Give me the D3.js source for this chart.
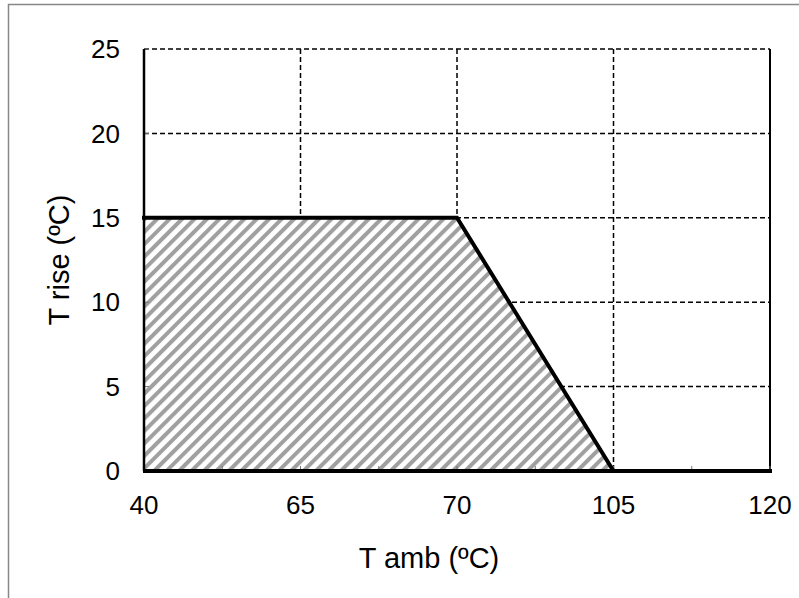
<!DOCTYPE html>
<html><head><meta charset="utf-8">
<script src="https://cdn.jsdelivr.net/npm/d3@7"></script>
<style>body{margin:0;background:#fff}svg{display:block}</style>
</head><body>
<script>
const categories = ["40", "65", "70", "105", "120"];
const tRise = [15, 15, 15, 0, 0];
const yTicks = [0, 5, 10, 15, 20, 25];
const xTitle = "T amb (ºC)";
const yTitle = "T rise (ºC)";

const W = 799, H = 598;
const m = {left:144, right:770, top:49, bottom:471};
const svg = d3.select("body").append("svg").attr("width", W).attr("height", H);
const font = "'Liberation Sans', Arial, sans-serif";

// outer frame (top & left only visible)
svg.append("path").attr("d", `M8.5,${H} V4.5 H${W}`).attr("fill","none").attr("stroke","#888").attr("stroke-width",1.5);

const x = d3.scalePoint().domain(categories).range([m.left, m.right]);
const y = d3.scaleLinear().domain([0, 25]).range([m.bottom, m.top]);

// hatch pattern
const defs = svg.append("defs");
const P = 8.8;
const pat = defs.append("pattern").attr("id","hatch").attr("patternUnits","userSpaceOnUse")
  .attr("width",P).attr("height",P).attr("patternTransform","rotate(45)");
pat.append("rect").attr("width",P).attr("height",P).attr("fill","#fff");
pat.append("rect").attr("x",0).attr("y",0).attr("width",4).attr("height",P).attr("fill","#a0a0a0");

// gridlines
const g = svg.append("g");
g.selectAll("line.h").data(yTicks.filter(d=>d>0)).join("line")
  .attr("x1", m.left).attr("x2", m.right).attr("y1", d=>y(d)).attr("y2", d=>y(d))
  .attr("stroke","#000").attr("stroke-width",1.5).attr("stroke-dasharray","5,3");
g.selectAll("line.v").data(categories.slice(1, -1)).join("line")
  .attr("x1", d=>x(d)).attr("x2", d=>x(d)).attr("y1", m.top).attr("y2", m.bottom)
  .attr("stroke","#000").attr("stroke-width",1.5).attr("stroke-dasharray","5,3");

// right border
svg.append("line").attr("x1", m.right).attr("x2", m.right).attr("y1", m.top).attr("y2", m.bottom)
  .attr("stroke","#000").attr("stroke-width",2);

// area
const pts = categories.map((c,i)=>({c, v:tRise[i]}));
const area = d3.area().x(d=>x(d.c)).y0(y(0)).y1(d=>y(d.v));
svg.append("path").datum(pts).attr("d", area).attr("fill","url(#hatch)");

// minor ticks on x (half intervals)
const step = x.step();
const xt = [];
for (let i = 0; i < categories.length - 1; i++) xt.push(x(categories[i]) + step/2);
categories.forEach(c=>xt.push(x(c)));
svg.selectAll("line.xt").data(xt).join("line")
  .attr("x1", d=>d).attr("x2", d=>d).attr("y1", m.bottom).attr("y2", m.bottom-5)
  .attr("stroke","#777").attr("stroke-width",1);
svg.selectAll("line.yt").data(yTicks).join("line")
  .attr("x1", m.left).attr("x2", m.left+5).attr("y1", d=>y(d)).attr("y2", d=>y(d))
  .attr("stroke","#777").attr("stroke-width",1);

// axis lines
svg.append("line").attr("x1", m.left).attr("x2", m.left).attr("y1", m.top).attr("y2", m.bottom)
  .attr("stroke","#000").attr("stroke-width",2.5);
svg.append("line").attr("x1", m.left - 1).attr("x2", m.right).attr("y1", y(0)).attr("y2", y(0))
  .attr("stroke","#000").attr("stroke-width",4);

// data line
const line = d3.line().x(d=>x(d.c)).y(d=>y(d.v));
svg.append("path").datum(pts).attr("d", line).attr("fill","none")
  .attr("stroke","#000").attr("stroke-width",4).attr("stroke-linejoin","miter").attr("stroke-linecap","square");

// tick labels
svg.selectAll("text.yl").data(yTicks).join("text")
  .attr("x", 120).attr("y", d=>y(d)).attr("dy","0.35em").attr("text-anchor","end")
  .attr("font-family", font).attr("font-size", 26).text(d=>d);
svg.selectAll("text.xl").data(categories).join("text")
  .attr("x", d=>x(d)).attr("y", 514).attr("text-anchor","middle")
  .attr("font-family", font).attr("font-size", 26).text(d=>d);

// titles
svg.append("text").attr("x", 429).attr("y", 568).attr("text-anchor","middle")
  .attr("font-family", font).attr("font-size", 29).text(xTitle);
svg.append("text").attr("transform", `translate(69,260) rotate(-90)`).attr("text-anchor","middle")
  .attr("font-family", font).attr("font-size", 29).text(yTitle);
</script>
</body></html>
